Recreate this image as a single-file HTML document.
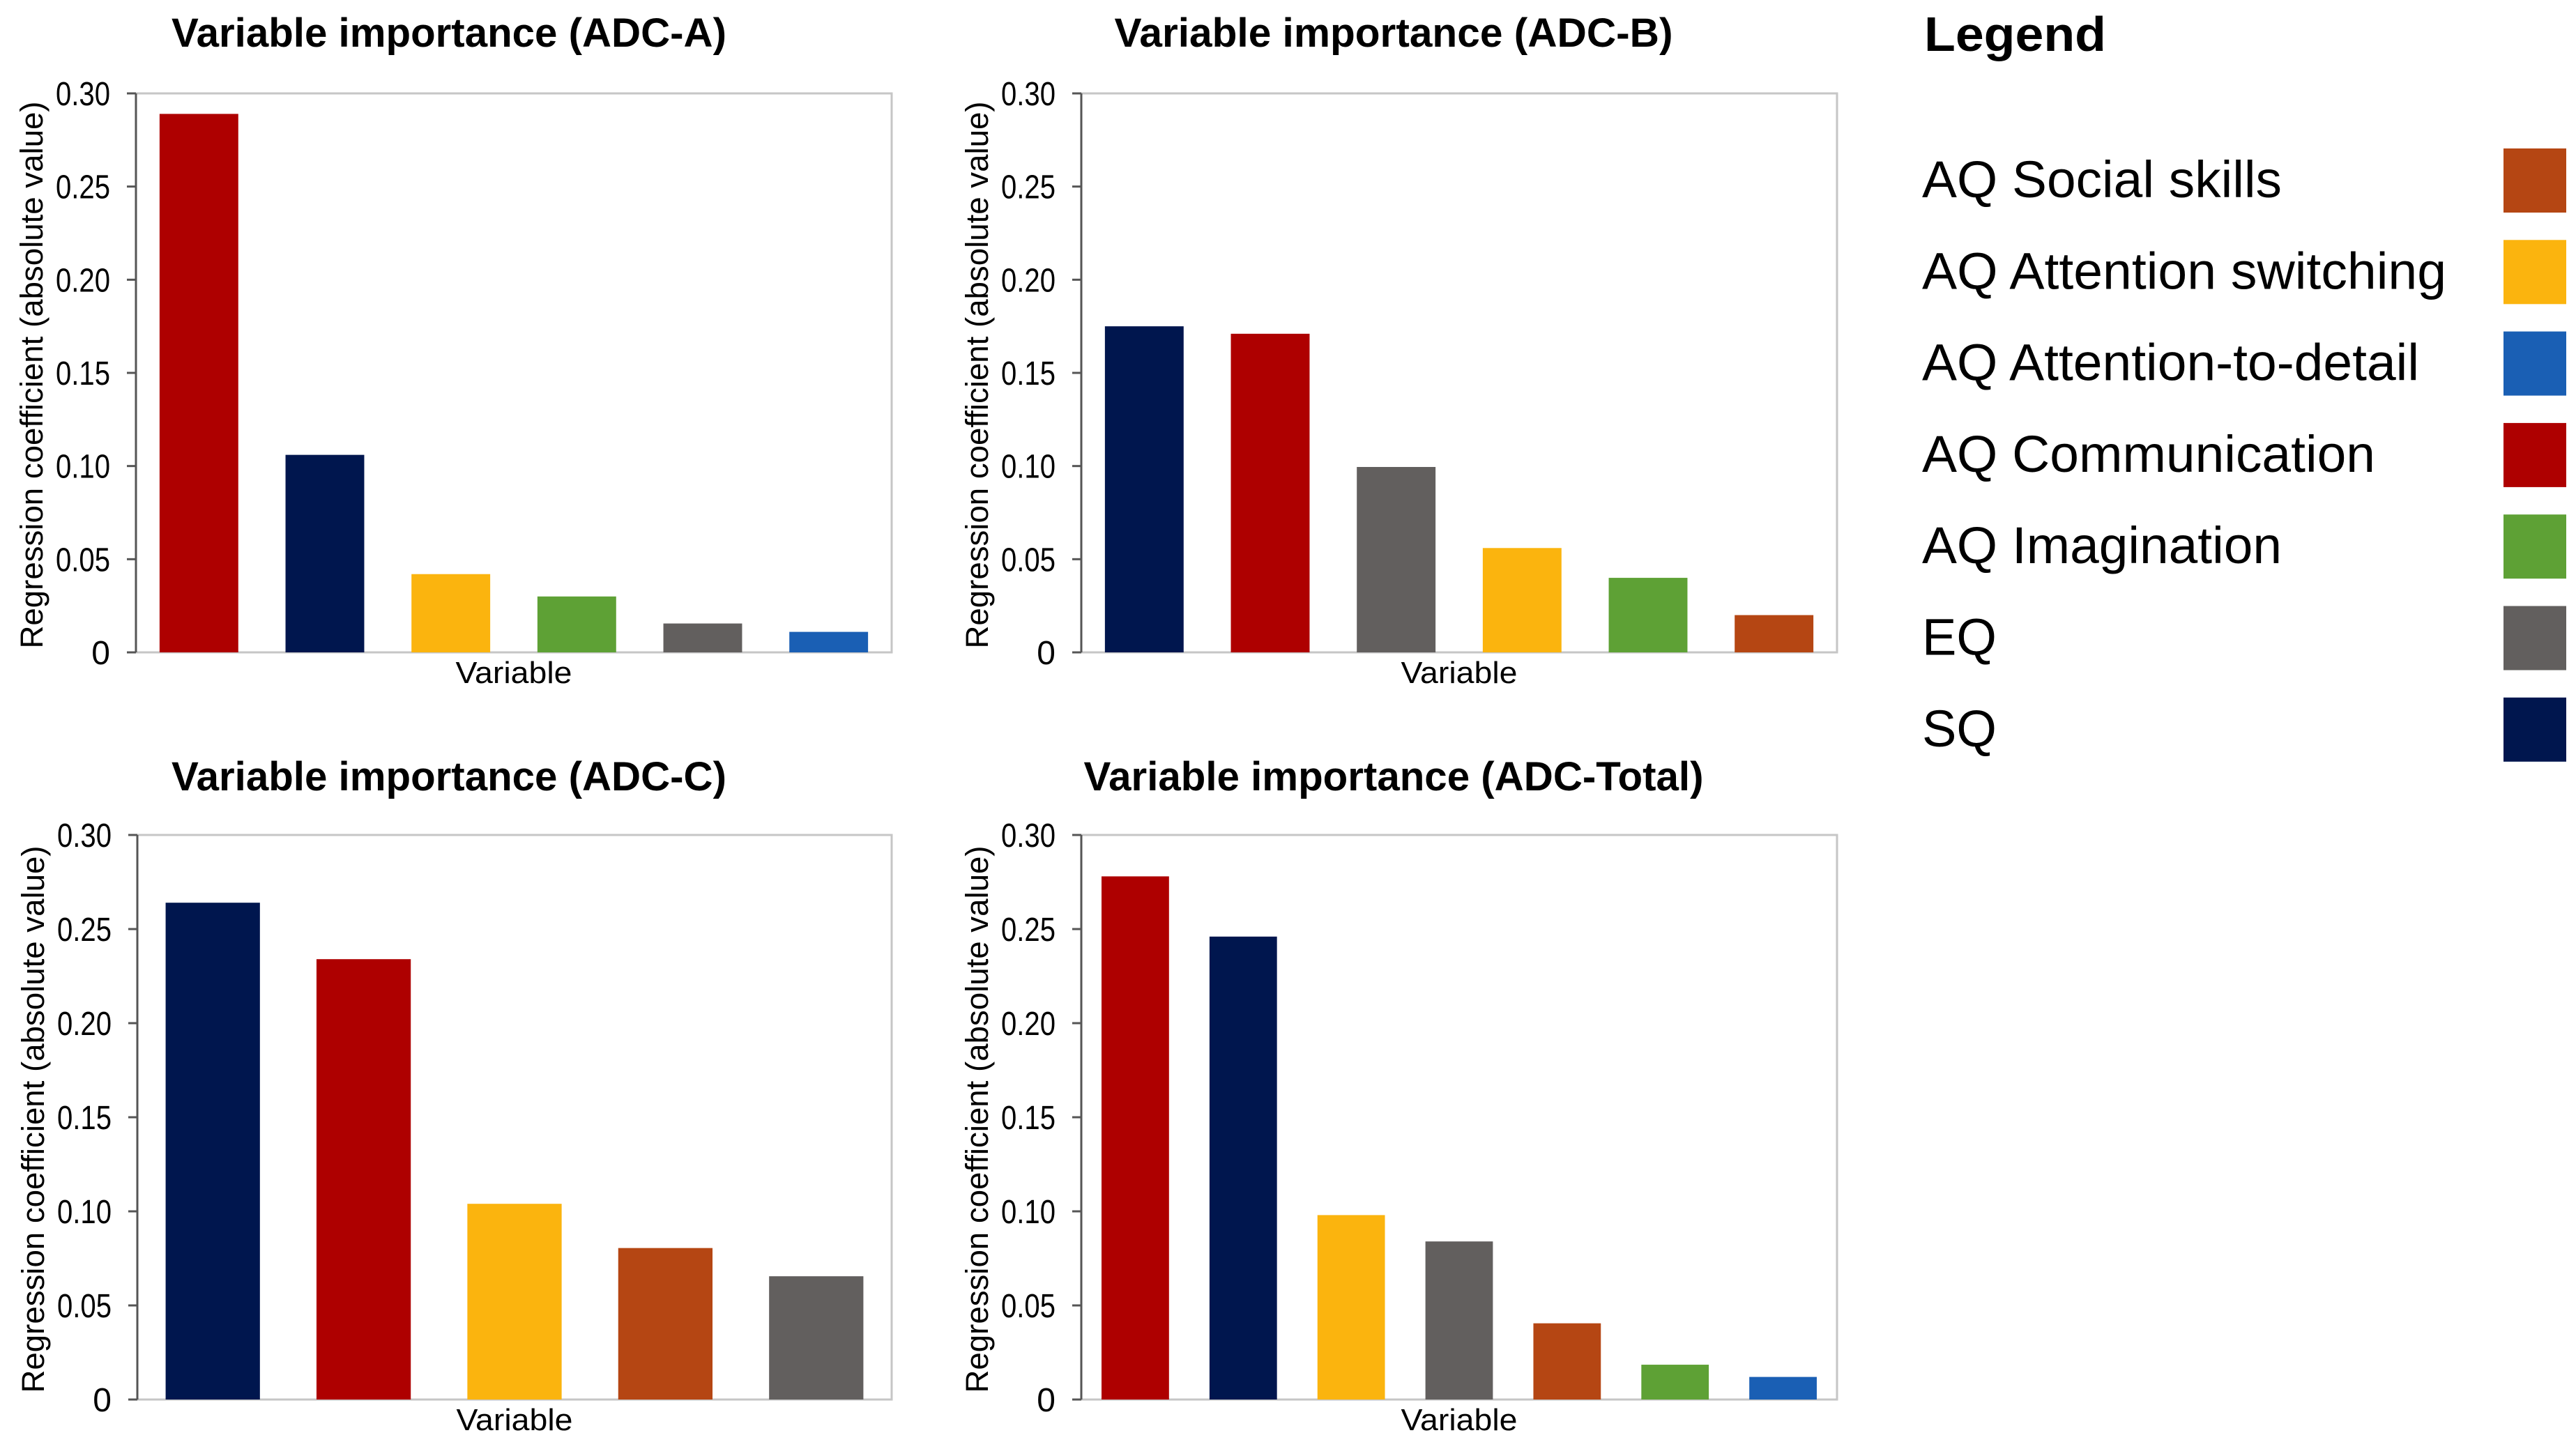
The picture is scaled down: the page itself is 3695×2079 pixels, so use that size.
<!DOCTYPE html>
<html><head><meta charset="utf-8"><style>
html,body{margin:0;padding:0;background:#fff;}
svg{display:block;}
text{font-family:"Liberation Sans",Arial,sans-serif;fill:#000;}
</style></head><body>
<svg id="fig" width="3695" height="2079" viewBox="0 0 3695 2079" xmlns="http://www.w3.org/2000/svg"></svg>
<script>
const colors = {social:'#b54613', switching:'#fbb40e', detail:'#1a5fb4', comm:'#ae0000', imag:'#5ea135', eq:'#625f5e', sq:'#00164e'};
const catsA = ['comm','sq','switching','imag','eq','detail'];
const valsA = [0.289,0.106,0.042,0.030,0.0155,0.011];
const catsB = ['sq','comm','eq','switching','imag','social'];
const valsB = [0.175,0.171,0.0995,0.056,0.040,0.020];
const catsC = ['sq','comm','switching','social','eq'];
const valsC = [0.264,0.234,0.104,0.0805,0.0655];
const catsT = ['comm','sq','switching','eq','social','imag','detail'];
const valsT = [0.278,0.246,0.098,0.084,0.0405,0.0185,0.012];
const ticks = [0,0.05,0.10,0.15,0.20,0.25,0.30];
const tickLabels = ['0','0.05','0.10','0.15','0.20','0.25','0.30'];
const legendKeys = ['social','switching','detail','comm','imag','eq','sq'];
const legendLabels = ['AQ Social skills','AQ Attention switching','AQ Attention-to-detail','AQ Communication','AQ Imagination','EQ','SQ'];

const NS='http://www.w3.org/2000/svg';
const svg=document.getElementById('fig');
function mk(tag,attrs,parent){const e=document.createElementNS(NS,tag);for(const k in attrs)e.setAttribute(k,attrs[k]);(parent||svg).appendChild(e);return e;}

const panels=[
 {id:'adc-a',title:'Variable importance (ADC-A)',tx:644,ty:67,tw:796,x0:195,x1:1279,y0:134,y1:936,cats:catsA,vals:valsA},
 {id:'adc-b',title:'Variable importance (ADC-B)',tx:1999,ty:67,tw:801,x0:1551,x1:2635,y0:134,y1:936,cats:catsB,vals:valsB},
 {id:'adc-c',title:'Variable importance (ADC-C)',tx:644,ty:1134,tw:796,x0:197,x1:1279,y0:1198,y1:2008,cats:catsC,vals:valsC},
 {id:'adc-total',title:'Variable importance (ADC-Total)',tx:1999,ty:1134,tw:889,x0:1551,x1:2635,y0:1198,y1:2008,cats:catsT,vals:valsT}
];
const ymax=0.30;
panels.forEach(p=>{
  const g=mk('g',{});
  
  
  const yS=v=>p.y1-(v/ymax)*(p.y1-p.y0);
  const t=mk('text',{x:p.tx,y:p.ty,'text-anchor':'middle','font-size':58,'font-weight':'bold',textLength:p.tw,lengthAdjust:'spacingAndGlyphs'},g);
  t.textContent=p.title;
  
  
  const fr=mk('rect',{x:p.x0,y:p.y0,width:p.x1-p.x0,height:p.y1-p.y0,fill:'none',stroke:'#c6c6c6','stroke-width':3},g);
  
  
  const n=p.cats.length, cw=(p.x1-p.x0)/n, bw=cw*0.625;
  p.vals.forEach((v,i)=>{
    const b=mk('rect',{x:p.x0+cw*i+(cw-bw)/2,y:yS(v),width:bw,height:p.y1-yS(v),fill:colors[p.cats[i]]},g);
    
    
  });
  const ax=mk('line',{x1:p.x0,y1:p.y0,x2:p.x0,y2:p.y1,stroke:'#555','stroke-width':3},g);
  
  
  ticks.forEach((tv,i)=>{
    const y=yS(tv);
    const tk=mk('line',{x1:p.x0-13,y1:y,x2:p.x0,y2:y,stroke:'#555','stroke-width':3},g);
    
    
    const lab=tickLabels[i];
    const attrs={x:p.x0-37,y:y+17,'text-anchor':'end','font-size':48};
    if(lab.length>1){attrs.textLength=78;attrs.lengthAdjust='spacingAndGlyphs';}
    const tl=mk('text',attrs,g);
    tl.textContent=lab;
    
    
  });
  const yc=(p.y0+p.y1)/2+3;
  const yt=mk('text',{x:0,y:0,'text-anchor':'middle','font-size':45,transform:`translate(${p.x0-134},${yc}) rotate(-90)`,textLength:785,lengthAdjust:'spacingAndGlyphs'},g);
  yt.textContent='Regression coefficient (absolute value)';
  
  
  const xt=mk('text',{x:(p.x0+p.x1)/2,y:p.y1+44,'text-anchor':'middle','font-size':44,textLength:167,lengthAdjust:'spacingAndGlyphs'},g);
  xt.textContent='Variable';
  
  
});

const lg=mk('g',{});


const lt=mk('text',{x:2760,y:73,'font-size':70,'font-weight':'bold',textLength:261,lengthAdjust:'spacingAndGlyphs'},lg);
lt.textContent='Legend';


const lw=[516,752,713,650,516,107,107];
const lgTop=213, lgStep=131.3;
legendKeys.forEach((k,i)=>{
  const top=lgTop+i*lgStep;
  const tx=mk('text',{x:2757,y:top+70,'font-size':74,textLength:lw[i],lengthAdjust:'spacingAndGlyphs'},lg);
  tx.textContent=legendLabels[i];
  
  
  const sw=mk('rect',{x:3591,y:top,width:90,height:92,fill:colors[k]},lg);
  
  
});
</script>
</body></html>
